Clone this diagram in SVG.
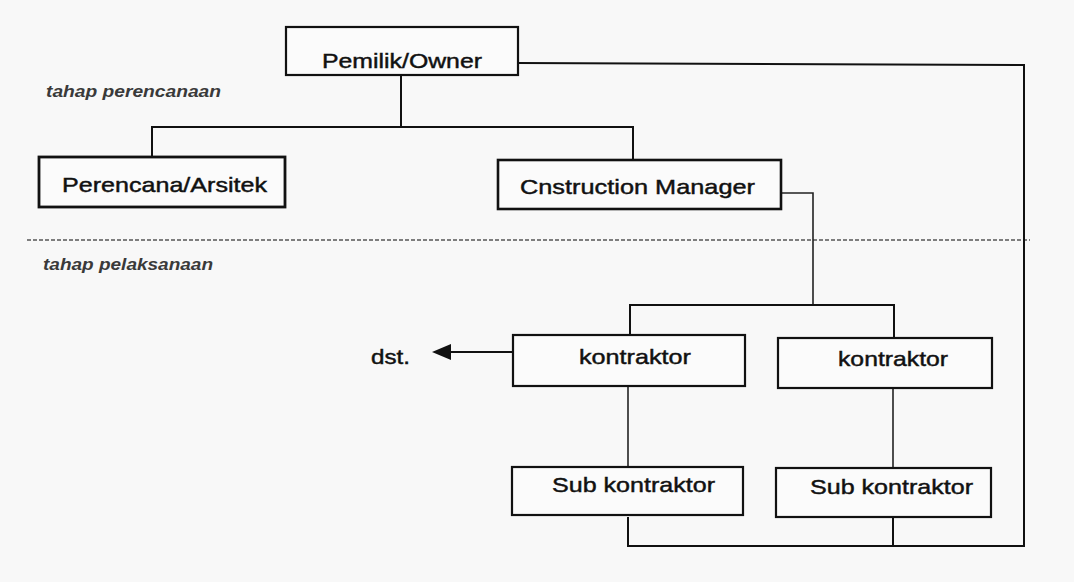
<svg xmlns="http://www.w3.org/2000/svg" width="1074" height="582" viewBox="0 0 1074 582">
<style>
.bg{fill:#f8f8f8}
.box{fill:#fbfbfb;stroke:#111;stroke-width:2.2}
.lbl{font-family:"Liberation Sans",Arial,sans-serif;font-size:21px;fill:#111;stroke:#111;stroke-width:0.45}
.phase{font-family:"Liberation Sans",Arial,sans-serif;font-size:16px;font-style:italic;font-weight:bold;fill:#3a3a3a}
.wire{fill:none;stroke:#111;stroke-width:2}
.thin{fill:none;stroke:#222;stroke-width:1.6}
.dash{stroke:#555;stroke-width:1.6;stroke-dasharray:4 2}
</style>
<rect class="bg" x="0" y="0" width="1074" height="582"/>
<g id="phases">
<text class="phase" x="46" y="97" textLength="175" lengthAdjust="spacingAndGlyphs">tahap perencanaan</text>
<line class="dash" x1="27" y1="240" x2="1030" y2="240"/>
<text class="phase" x="43" y="270" textLength="170" lengthAdjust="spacingAndGlyphs">tahap pelaksanaan</text>
</g>
<g id="connectors">
<polyline class="wire" points="401,75 401,127"/>
<polyline class="wire" points="152,158 152,127 633,127 633,160"/>
<polyline class="wire" points="518,63 1024,65 1024,546 628,546 628,517"/>
<polyline class="wire" points="893,546 893,517"/>
<polyline class="thin" points="781,193 813,193 813,305"/>
<polyline class="wire" points="630,335 630,305 894,305 894,338"/>
<polyline class="thin" points="628,386 628,467"/>
<polyline class="thin" points="893,388 893,468"/>
<line x1="513" y1="352" x2="448" y2="352" stroke="#111" stroke-width="2"/>
<path d="M432,352 L451,344 L451,360 z" fill="#111"/>
</g>
<g id="owner">
<rect class="box" x="286" y="27" width="232" height="48"/>
<text class="lbl" x="322" y="68" textLength="160" lengthAdjust="spacingAndGlyphs">Pemilik/Owner</text>
</g>
<g id="perencana">
<rect class="box" x="39" y="157" width="246" height="50" style="stroke-width:2.8"/>
<text class="lbl" x="62" y="192" textLength="205" lengthAdjust="spacingAndGlyphs">Perencana/Arsitek</text>
</g>
<g id="cm">
<rect class="box" x="498" y="160" width="283" height="49" style="stroke-width:2.6"/>
<text class="lbl" x="520" y="194" textLength="235" lengthAdjust="spacingAndGlyphs">Cnstruction Manager</text>
</g>
<g id="dst">
<text class="lbl" x="371" y="364" textLength="39" lengthAdjust="spacingAndGlyphs">dst.</text>
</g>
<g id="kontraktor1">
<rect class="box" x="513" y="335" width="232" height="51"/>
<text class="lbl" x="579" y="364" textLength="112" lengthAdjust="spacingAndGlyphs">kontraktor</text>
</g>
<g id="kontraktor2">
<rect class="box" x="778" y="338" width="214" height="50"/>
<text class="lbl" x="838" y="366" textLength="110" lengthAdjust="spacingAndGlyphs">kontraktor</text>
</g>
<g id="sub1">
<rect class="box" x="512" y="467" width="231" height="48"/>
<text class="lbl" x="552" y="492" textLength="163" lengthAdjust="spacingAndGlyphs">Sub kontraktor</text>
</g>
<g id="sub2">
<rect class="box" x="776" y="468" width="215" height="49"/>
<text class="lbl" x="810" y="494" textLength="163" lengthAdjust="spacingAndGlyphs">Sub kontraktor</text>
</g>
</svg>
